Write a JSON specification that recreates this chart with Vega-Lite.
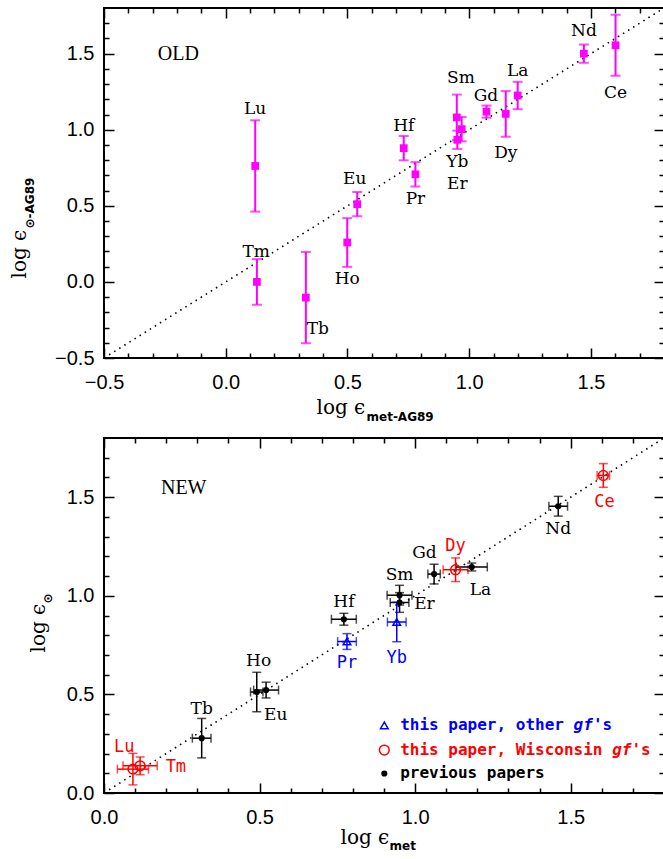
{
  "$schema": "https://vega.github.io/schema/vega-lite/v6.json",
  "background": "white",
  "padding": {"left": 8, "top": 3, "right": 0, "bottom": 0},
  "spacing": 80,
  "bounds": "flush",
  "config": {
    "view": {"stroke": "black", "strokeWidth": 2},
    "axis": {"grid": false, "domain": false, "tickColor": "black", "tickWidth": 1.5, "labelFont": "Liberation Sans", "labelFontSize": 20, "labelColor": "black", "titleColor": "black", "labelFlush": false, "labelOverlap": false}
  },
  "datasets": {
    "diagTop": [{"x": -0.5, "y": -0.5}, {"x": 1.8, "y": 1.8}],
    "diagBot": [{"x": 0, "y": 0}, {"x": 1.8, "y": 1.8}],
    "old": [
      {"el": "Lu", "x": 0.121, "y": 0.762, "err": 0.30, "label_x": 0.121, "label_y": 1.137},
      {"el": "Tm", "x": 0.128, "y": 0.0, "err": 0.15, "label_x": 0.125, "label_y": 0.197},
      {"el": "Tb", "x": 0.329, "y": -0.103, "err": 0.30, "label_x": 0.378, "label_y": -0.311},
      {"el": "Ho", "x": 0.499, "y": 0.259, "err": 0.16, "label_x": 0.499, "label_y": 0.022},
      {"el": "Eu", "x": 0.540, "y": 0.511, "err": 0.08, "label_x": 0.53, "label_y": 0.675},
      {"el": "Pr", "x": 0.779, "y": 0.707, "err": 0.08, "label_x": 0.779, "label_y": 0.544},
      {"el": "Hf", "x": 0.731, "y": 0.879, "err": 0.08, "label_x": 0.731, "label_y": 1.026},
      {"el": "Yb", "x": 0.951, "y": 0.934, "err": 0.06, "label_x": 0.951, "label_y": 0.791},
      {"el": "Er", "x": 0.969, "y": 1.004, "err": 0.08, "label_x": 0.951, "label_y": 0.643},
      {"el": "Sm", "x": 0.949, "y": 1.081, "err": 0.15, "label_x": 0.966, "label_y": 1.341},
      {"el": "Gd", "x": 1.071, "y": 1.119, "err": 0.04, "label_x": 1.069, "label_y": 1.225},
      {"el": "Dy", "x": 1.150, "y": 1.104, "err": 0.15, "label_x": 1.150, "label_y": 0.850},
      {"el": "La", "x": 1.199, "y": 1.225, "err": 0.09, "label_x": 1.199, "label_y": 1.383},
      {"el": "Nd", "x": 1.471, "y": 1.500, "err": 0.06, "label_x": 1.471, "label_y": 1.650},
      {"el": "Ce", "x": 1.601, "y": 1.555, "err": 0.20, "label_x": 1.601, "label_y": 1.240}
    ],
    "new": [
      {"el": "Lu", "grp": "wisc", "x": 0.093, "y": 0.121, "xerr": 0.05, "yerr": 0.08, "label_x": 0.065, "label_y": 0.235},
      {"el": "Tm", "grp": "wisc", "x": 0.116, "y": 0.138, "xerr": 0.055, "yerr": 0.045, "label_x": 0.231, "label_y": 0.133},
      {"el": "Tb", "grp": "prev", "x": 0.314, "y": 0.278, "xerr": 0.03, "yerr": 0.10, "label_x": 0.314, "label_y": 0.427},
      {"el": "Ho", "grp": "prev", "x": 0.491, "y": 0.512, "xerr": 0.02, "yerr": 0.10, "label_x": 0.497, "label_y": 0.671},
      {"el": "Eu", "grp": "prev", "x": 0.521, "y": 0.522, "xerr": 0.04, "yerr": 0.04, "label_x": 0.552, "label_y": 0.398},
      {"el": "Pr", "grp": "other", "x": 0.781, "y": 0.768, "xerr": 0.03, "yerr": 0.04, "label_x": 0.781, "label_y": 0.659},
      {"el": "Hf", "grp": "prev", "x": 0.771, "y": 0.881, "xerr": 0.04, "yerr": 0.03, "label_x": 0.771, "label_y": 0.966},
      {"el": "Yb", "grp": "other", "x": 0.941, "y": 0.867, "xerr": 0.03, "yerr": 0.10, "label_x": 0.941, "label_y": 0.683},
      {"el": "Er", "grp": "prev", "x": 0.950, "y": 0.966, "xerr": 0.03, "yerr": 0.05, "label_x": 1.030, "label_y": 0.958},
      {"el": "Sm", "grp": "prev", "x": 0.950, "y": 1.003, "xerr": 0.04, "yerr": 0.05, "label_x": 0.950, "label_y": 1.105},
      {"el": "Gd", "grp": "prev", "x": 1.061, "y": 1.110, "xerr": 0.02, "yerr": 0.05, "label_x": 1.030, "label_y": 1.217},
      {"el": "Dy", "grp": "wisc", "x": 1.130, "y": 1.132, "xerr": 0.04, "yerr": 0.06, "label_x": 1.130, "label_y": 1.254},
      {"el": "La", "grp": "prev", "x": 1.182, "y": 1.146, "xerr": 0.05, "yerr": 0.02, "label_x": 1.210, "label_y": 1.031},
      {"el": "Nd", "grp": "prev", "x": 1.460, "y": 1.454, "xerr": 0.03, "yerr": 0.05, "label_x": 1.460, "label_y": 1.339},
      {"el": "Ce", "grp": "wisc", "x": 1.605, "y": 1.610, "xerr": 0.02, "yerr": 0.06, "label_x": 1.609, "label_y": 1.478}
    ],
    "legendSym": [
      {"grp": "other", "x": 0.901, "y": 0.343},
      {"grp": "wisc", "x": 0.901, "y": 0.218},
      {"grp": "prev", "x": 0.901, "y": 0.099}
    ],
    "legendText": [
      {"grp": "other", "t": "this paper, other", "x": 0.952, "y": 0.343, "it": false},
      {"grp": "other", "t": "gf", "x": 1.5095, "y": 0.343, "it": true},
      {"grp": "other", "t": "'s", "x": 1.5714, "y": 0.343, "it": false},
      {"grp": "wisc", "t": "this paper, Wisconsin", "x": 0.952, "y": 0.218, "it": false},
      {"grp": "wisc", "t": "gf", "x": 1.6333, "y": 0.218, "it": true},
      {"grp": "wisc", "t": "'s", "x": 1.6952, "y": 0.218, "it": false},
      {"grp": "prev", "t": "previous papers", "x": 0.952, "y": 0.099, "it": false}
    ],
    "tagOld": [{"t": "OLD", "x": -0.279, "y": 1.5}],
    "tagNew": [{"t": "NEW", "x": 0.183, "y": 1.546}]
  },
  "vconcat": [
    {
      "width": 560,
      "height": 350,
      "resolve": {"axis": {"x": "independent", "y": "independent"}},
      "layer": [
        {
          "data": {"name": "diagTop"},
          "mark": {"type": "line", "color": "black", "strokeDash": [1.5, 4.5], "strokeWidth": 1.6},
          "encoding": {
            "x": {"field": "x", "type": "quantitative", "scale": {"domain": [-0.5, 1.8], "nice": false, "zero": false},
              "axis": {"orient": "bottom", "values": [-0.5, 0, 0.5, 1, 1.5], "format": ".1f", "tickSize": -10, "labelPadding": 24,
                "title": "log ϵ", "titleFont": "DejaVu Serif", "titleFontSize": 20, "titleFontWeight": "normal", "titleX": 212, "titleY": 55, "titleAlign": "left", "titleBaseline": "alphabetic"}},
            "y": {"field": "y", "type": "quantitative", "scale": {"domain": [-0.5, 1.8], "nice": false, "zero": false},
              "axis": {"orient": "left", "values": [-0.5, 0, 0.5, 1, 1.5], "format": ".1f", "tickSize": -10, "labelPadding": 20,
                "title": "log ϵ", "titleFont": "DejaVu Serif", "titleFontSize": 20, "titleFontWeight": "normal", "titleX": -79, "titleY": 270, "titleAlign": "left", "titleBaseline": "alphabetic", "titleAngle": 270}}
          }
        },
        {
          "data": {"name": "old"},
          "mark": {"type": "errorbar", "ticks": true, "size": 10, "thickness": 2, "color": "#ff00ff"},
          "encoding": {
            "x": {"field": "x", "type": "quantitative", "scale": {"domain": [-0.5, 1.8], "nice": false, "zero": false},
              "axis": {"orient": "bottom", "values": [-0.4, -0.3, -0.2, -0.1, 0.1, 0.2, 0.3, 0.4, 0.6, 0.7, 0.8, 0.9, 1.1, 1.2, 1.3, 1.4, 1.6, 1.7], "tickSize": -5, "labels": false, "title": null}},
            "y": {"field": "y", "type": "quantitative", "scale": {"domain": [-0.5, 1.8], "nice": false, "zero": false},
              "axis": {"orient": "left", "values": [-0.4, -0.3, -0.2, -0.1, 0.1, 0.2, 0.3, 0.4, 0.6, 0.7, 0.8, 0.9, 1.1, 1.2, 1.3, 1.4, 1.6, 1.7], "tickSize": -5, "labels": false, "title": null}},
            "yError": {"field": "err"}
          }
        },
        {
          "data": {"name": "old"},
          "mark": {"type": "point", "shape": "square", "filled": true, "color": "#ff00ff", "size": 60, "opacity": 1},
          "encoding": {
            "x": {"field": "x", "type": "quantitative", "scale": {"domain": [-0.5, 1.8], "nice": false, "zero": false},
              "axis": {"orient": "top", "values": [-0.5, 0, 0.5, 1, 1.5], "tickSize": -10, "labels": false, "title": null}},
            "y": {"field": "y", "type": "quantitative", "scale": {"domain": [-0.5, 1.8], "nice": false, "zero": false},
              "axis": {"orient": "right", "values": [-0.5, 0, 0.5, 1, 1.5], "tickSize": -10, "labels": false, "title": null}}
          }
        },
        {
          "data": {"name": "old"},
          "mark": {"type": "text", "font": "DejaVu Serif", "fontSize": 17, "color": "black", "align": "center", "baseline": "middle"},
          "encoding": {
            "x": {"field": "label_x", "type": "quantitative", "scale": {"domain": [-0.5, 1.8], "nice": false, "zero": false},
              "axis": {"orient": "top", "values": [-0.4, -0.3, -0.2, -0.1, 0.1, 0.2, 0.3, 0.4, 0.6, 0.7, 0.8, 0.9, 1.1, 1.2, 1.3, 1.4, 1.6, 1.7], "tickSize": -5, "labels": false, "title": null}},
            "y": {"field": "label_y", "type": "quantitative", "scale": {"domain": [-0.5, 1.8], "nice": false, "zero": false},
              "axis": {"orient": "right", "values": [-0.4, -0.3, -0.2, -0.1, 0.1, 0.2, 0.3, 0.4, 0.6, 0.7, 0.8, 0.9, 1.1, 1.2, 1.3, 1.4, 1.6, 1.7], "tickSize": -5, "labels": false, "title": null}},
            "text": {"field": "el"}
          }
        },
        {
          "data": {"name": "tagOld"},
          "mark": {"type": "text", "font": "Liberation Serif", "fontSize": 20, "color": "black", "align": "left", "baseline": "middle"},
          "encoding": {
            "x": {"field": "x", "type": "quantitative", "scale": {"domain": [-0.5, 1.8], "nice": false, "zero": false},
              "axis": {"orient": "bottom", "ticks": false, "labels": false, "title": "met-AG89", "titleFont": "DejaVu Sans", "titleFontSize": 12, "titleFontWeight": "bold", "titleX": 262, "titleY": 62, "titleAlign": "left", "titleBaseline": "alphabetic"}},
            "y": {"field": "y", "type": "quantitative", "scale": {"domain": [-0.5, 1.8], "nice": false, "zero": false},
              "axis": {"orient": "left", "ticks": false, "labels": false, "title": "⊙-AG89", "titleFont": "DejaVu Sans", "titleFontSize": 12, "titleFontWeight": "bold", "titleX": -71, "titleY": 220, "titleAlign": "left", "titleBaseline": "alphabetic", "titleAngle": 270}},
            "text": {"field": "t"}
          }
        }
      ]
    },
    {
      "width": 560,
      "height": 355,
      "resolve": {"axis": {"x": "independent", "y": "independent"}},
      "layer": [
        {
          "data": {"name": "diagBot"},
          "mark": {"type": "line", "color": "black", "strokeDash": [1.5, 4.5], "strokeWidth": 1.6},
          "encoding": {
            "x": {"field": "x", "type": "quantitative", "scale": {"domain": [0, 1.8], "nice": false, "zero": false},
              "axis": {"orient": "bottom", "values": [0, 0.5, 1, 1.5], "format": ".1f", "tickSize": -10, "labelPadding": 24,
                "title": "log ϵ", "titleFont": "DejaVu Serif", "titleFontSize": 20, "titleFontWeight": "normal", "titleX": 236, "titleY": 50, "titleAlign": "left", "titleBaseline": "alphabetic"}},
            "y": {"field": "y", "type": "quantitative", "scale": {"domain": [0, 1.8], "nice": false, "zero": false},
              "axis": {"orient": "left", "values": [0, 0.5, 1, 1.5], "format": ".1f", "tickSize": -10, "labelPadding": 20,
                "title": "log ϵ", "titleFont": "DejaVu Serif", "titleFontSize": 20, "titleFontWeight": "normal", "titleX": -60, "titleY": 214, "titleAlign": "left", "titleBaseline": "alphabetic", "titleAngle": 270}}
          }
        },
        {
          "data": {"name": "new"},
          "mark": {"type": "errorbar", "ticks": true, "size": 9, "thickness": 1.5},
          "encoding": {
            "x": {"field": "x", "type": "quantitative", "scale": {"domain": [0, 1.8], "nice": false, "zero": false},
              "axis": {"orient": "bottom", "values": [0.1, 0.2, 0.3, 0.4, 0.6, 0.7, 0.8, 0.9, 1.1, 1.2, 1.3, 1.4, 1.6, 1.7], "tickSize": -5, "labels": false, "title": null}},
            "xError": {"field": "xerr"},
            "y": {"field": "y", "type": "quantitative", "scale": {"domain": [0, 1.8], "nice": false, "zero": false},
              "axis": {"orient": "left", "values": [0.1, 0.2, 0.3, 0.4, 0.6, 0.7, 0.8, 0.9, 1.1, 1.2, 1.3, 1.4, 1.6, 1.7], "tickSize": -5, "labels": false, "title": null}},
            "color": {"field": "grp", "type": "nominal", "scale": {"domain": ["prev", "other", "wisc"], "range": ["black", "#0000ff", "#ff0000"]}, "legend": null}
          }
        },
        {
          "data": {"name": "new"},
          "mark": {"type": "errorbar", "ticks": true, "size": 9, "thickness": 1.5},
          "encoding": {
            "x": {"field": "x", "type": "quantitative", "scale": {"domain": [0, 1.8], "nice": false, "zero": false},
              "axis": {"orient": "top", "values": [0, 0.5, 1, 1.5], "tickSize": -10, "labels": false, "title": null}},
            "y": {"field": "y", "type": "quantitative", "scale": {"domain": [0, 1.8], "nice": false, "zero": false},
              "axis": {"orient": "right", "values": [0, 0.5, 1, 1.5], "tickSize": -10, "labels": false, "title": null}},
            "yError": {"field": "yerr"},
            "color": {"field": "grp", "type": "nominal", "scale": {"domain": ["prev", "other", "wisc"], "range": ["black", "#0000ff", "#ff0000"]}, "legend": null}
          }
        },
        {
          "data": {"name": "new"},
          "mark": {"type": "point", "strokeWidth": 1.5, "opacity": 1},
          "encoding": {
            "x": {"field": "x", "type": "quantitative", "scale": {"domain": [0, 1.8], "nice": false, "zero": false},
              "axis": {"orient": "top", "values": [0.1, 0.2, 0.3, 0.4, 0.6, 0.7, 0.8, 0.9, 1.1, 1.2, 1.3, 1.4, 1.6, 1.7], "tickSize": -5, "labels": false, "title": null}},
            "y": {"field": "y", "type": "quantitative", "scale": {"domain": [0, 1.8], "nice": false, "zero": false},
              "axis": {"orient": "right", "values": [0.1, 0.2, 0.3, 0.4, 0.6, 0.7, 0.8, 0.9, 1.1, 1.2, 1.3, 1.4, 1.6, 1.7], "tickSize": -5, "labels": false, "title": null}},
            "shape": {"field": "grp", "type": "nominal", "scale": {"domain": ["prev", "other", "wisc"], "range": ["circle", "triangle-up", "circle"]}, "legend": null},
            "size": {"field": "grp", "type": "ordinal", "scale": {"domain": ["prev", "other", "wisc"], "range": [22, 95, 110]}, "legend": null},
            "stroke": {"field": "grp", "type": "nominal", "scale": {"domain": ["prev", "other", "wisc"], "range": ["black", "#0000ff", "#ff0000"]}, "legend": null},
            "fill": {"field": "grp", "type": "nominal", "scale": {"domain": ["prev", "other", "wisc"], "range": ["black", "transparent", "transparent"]}, "legend": null}
          }
        },
        {
          "data": {"name": "legendSym"},
          "mark": {"type": "point", "strokeWidth": 1.5, "opacity": 1},
          "encoding": {
            "x": {"field": "x", "type": "quantitative", "scale": {"domain": [0, 1.8], "nice": false, "zero": false},
              "axis": {"orient": "bottom", "ticks": false, "labels": false, "title": "met", "titleFont": "DejaVu Sans", "titleFontSize": 12, "titleFontWeight": "bold", "titleX": 285, "titleY": 56, "titleAlign": "left", "titleBaseline": "alphabetic"}},
            "y": {"field": "y", "type": "quantitative", "scale": {"domain": [0, 1.8], "nice": false, "zero": false},
              "axis": {"orient": "left", "ticks": false, "labels": false, "title": "⊙", "titleFont": "DejaVu Sans", "titleFontSize": 12, "titleFontWeight": "bold", "titleX": -53, "titleY": 165, "titleAlign": "left", "titleBaseline": "alphabetic", "titleAngle": 270}},
            "shape": {"field": "grp", "type": "nominal", "scale": {"domain": ["prev", "other", "wisc"], "range": ["circle", "triangle-up", "circle"]}, "legend": null},
            "size": {"field": "grp", "type": "ordinal", "scale": {"domain": ["prev", "other", "wisc"], "range": [22, 95, 110]}, "legend": null},
            "stroke": {"field": "grp", "type": "nominal", "scale": {"domain": ["prev", "other", "wisc"], "range": ["black", "#0000ff", "#ff0000"]}, "legend": null},
            "fill": {"field": "grp", "type": "nominal", "scale": {"domain": ["prev", "other", "wisc"], "range": ["black", "transparent", "transparent"]}, "legend": null}
          }
        },
        {
          "data": {"name": "new"},
          "transform": [{"filter": "datum.grp === 'prev'"}],
          "mark": {"type": "text", "font": "DejaVu Serif", "fontSize": 17, "color": "black", "align": "center", "baseline": "middle"},
          "encoding": {
            "x": {"field": "label_x", "type": "quantitative", "scale": {"domain": [0, 1.8], "nice": false, "zero": false}, "axis": null},
            "y": {"field": "label_y", "type": "quantitative", "scale": {"domain": [0, 1.8], "nice": false, "zero": false}, "axis": null},
            "text": {"field": "el"}
          }
        },
        {
          "data": {"name": "new"},
          "transform": [{"filter": "datum.grp !== 'prev'"}],
          "mark": {"type": "text", "font": "DejaVu Sans Mono", "fontSize": 17, "fontWeight": "normal", "align": "center", "baseline": "middle"},
          "encoding": {
            "x": {"field": "label_x", "type": "quantitative", "scale": {"domain": [0, 1.8], "nice": false, "zero": false}, "axis": null},
            "y": {"field": "label_y", "type": "quantitative", "scale": {"domain": [0, 1.8], "nice": false, "zero": false}, "axis": null},
            "text": {"field": "el"},
            "color": {"field": "grp", "type": "nominal", "scale": {"domain": ["prev", "other", "wisc"], "range": ["black", "#0000ff", "#ff0000"]}, "legend": null}
          }
        },
        {
          "data": {"name": "legendText"},
          "transform": [{"filter": "!datum.it"}],
          "mark": {"type": "text", "font": "DejaVu Sans Mono", "fontSize": 16, "fontWeight": "bold", "align": "left", "baseline": "middle"},
          "encoding": {
            "x": {"field": "x", "type": "quantitative", "scale": {"domain": [0, 1.8], "nice": false, "zero": false}, "axis": null},
            "y": {"field": "y", "type": "quantitative", "scale": {"domain": [0, 1.8], "nice": false, "zero": false}, "axis": null},
            "text": {"field": "t"},
            "color": {"field": "grp", "type": "nominal", "scale": {"domain": ["prev", "other", "wisc"], "range": ["black", "#0000ff", "#ff0000"]}, "legend": null}
          }
        },
        {
          "data": {"name": "legendText"},
          "transform": [{"filter": "datum.it"}],
          "mark": {"type": "text", "font": "DejaVu Sans Mono", "fontSize": 16, "fontWeight": "bold", "fontStyle": "italic", "align": "left", "baseline": "middle"},
          "encoding": {
            "x": {"field": "x", "type": "quantitative", "scale": {"domain": [0, 1.8], "nice": false, "zero": false}, "axis": null},
            "y": {"field": "y", "type": "quantitative", "scale": {"domain": [0, 1.8], "nice": false, "zero": false}, "axis": null},
            "text": {"field": "t"},
            "color": {"field": "grp", "type": "nominal", "scale": {"domain": ["prev", "other", "wisc"], "range": ["black", "#0000ff", "#ff0000"]}, "legend": null}
          }
        },
        {
          "data": {"name": "tagNew"},
          "mark": {"type": "text", "font": "Liberation Serif", "fontSize": 20, "color": "black", "align": "left", "baseline": "middle"},
          "encoding": {
            "x": {"field": "x", "type": "quantitative", "scale": {"domain": [0, 1.8], "nice": false, "zero": false}, "axis": null},
            "y": {"field": "y", "type": "quantitative", "scale": {"domain": [0, 1.8], "nice": false, "zero": false}, "axis": null},
            "text": {"field": "t"}
          }
        }
      ]
    }
  ]
}
